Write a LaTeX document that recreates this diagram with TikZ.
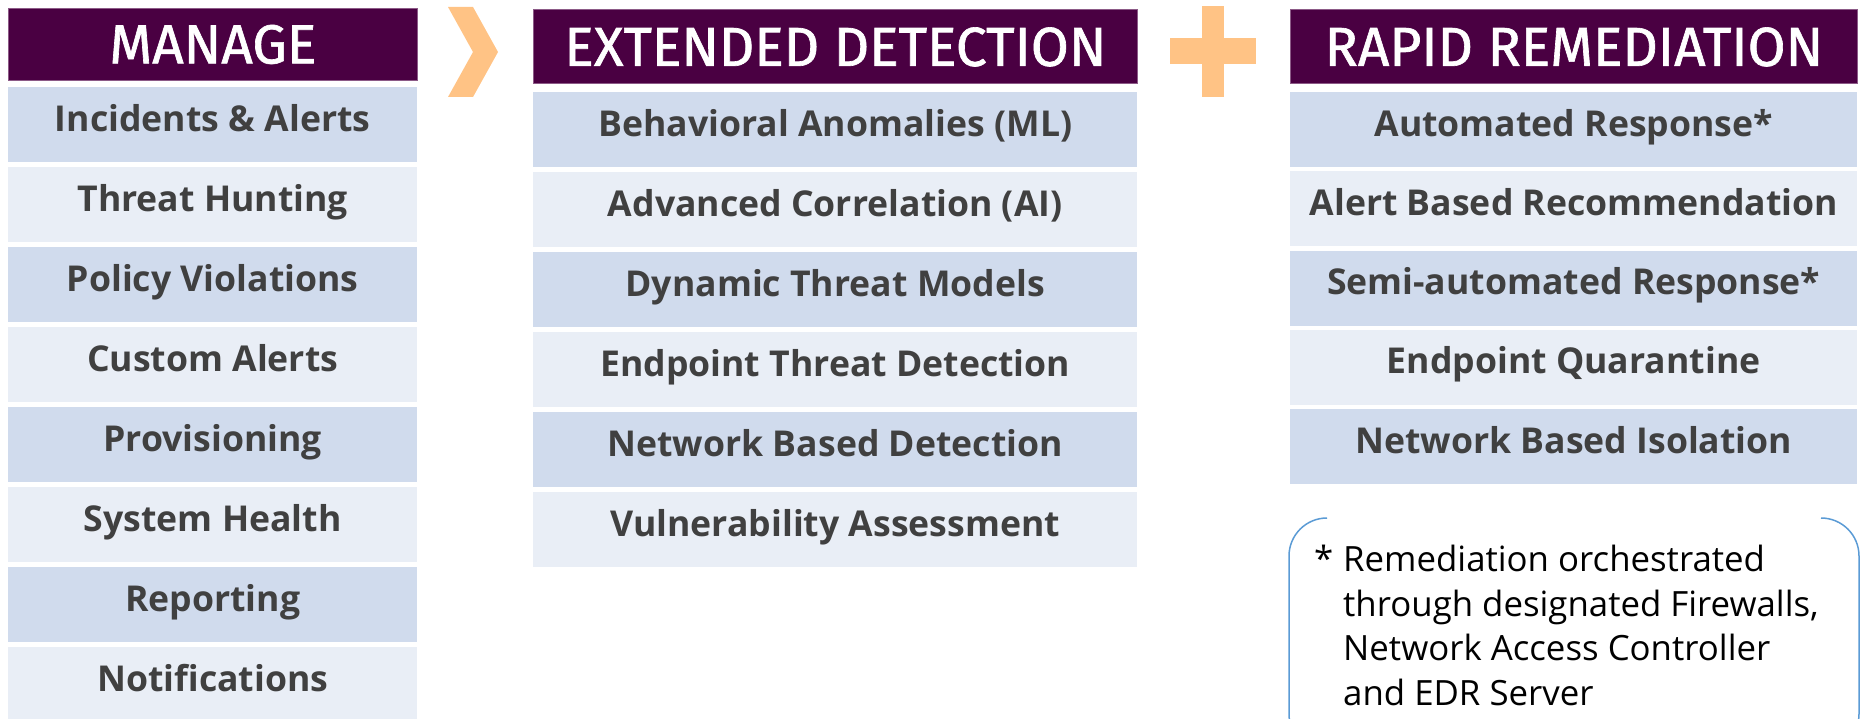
\documentclass[tikz,border=0pt]{standalone}
\usepackage{fontspec}
\setmainfont{Open Sans}
\newfontfamily\hdrfont[FakeBold=1.2]{Fira Sans}
\definecolor{hdrpurple}{HTML}{4A0042}
\definecolor{hdredge}{HTML}{8C5A87}
\definecolor{rowdark}{HTML}{D0DBED}
\definecolor{rowlight}{HTML}{E9EEF6}
\definecolor{txtgray}{HTML}{404040}
\definecolor{orng}{HTML}{FFC385}
\definecolor{notebl}{HTML}{5B9BD5}
\tikzset{
  hdr/.style={fill=hdrpurple, draw=hdredge, line width=0.8pt, text=white,
    font=\hdrfont\fontsize{55}{60}\selectfont, inner sep=0pt, anchor=north west,
    text height=38pt, text depth=0pt},
  cell/.style={inner sep=0pt, anchor=north west, minimum height=75pt,
    text height=44pt, text depth=31pt, text=txtgray,
    font=\bfseries\fontsize{35.6}{43}\selectfont},
  notebr/.style={draw=notebl, line width=1.5pt, rounded corners=38pt},
  notetxt/.style={inner sep=0pt, anchor=north west, align=left,
    font=\fontsize{34.8}{44.5}\selectfont, text=black}
}
\begin{document}
\begin{tikzpicture}[x=1pt,y=-1pt]
\useasboundingbox (0,0) rectangle (1861,719);
\begin{scope}
\clip (0,0) rectangle (1861,719);
% headers
\node[hdr, minimum width=409pt, minimum height=72pt] (hman) at (8,8) {MANAGE};
\node[hdr, minimum width=604pt, minimum height=74pt] (hext) at (533,9.5) {EXTENDED DETECTION};
\node[hdr, minimum width=567pt, minimum height=74pt] (hrap) at (1290,9.5) {RAPID REMEDIATION};
% manage rows
\foreach \t [count=\i from 0, evaluate=\i as \yy using 87+80*\i] in
  {Incidents \& Alerts, Threat Hunting, Policy Violations, Custom Alerts,
   Provisioning, System Health, Reporting, Notifications}{
  \ifodd\i\def\rc{rowlight}\else\def\rc{rowdark}\fi
  \node[cell, fill=\rc, minimum width=409pt] (m\i) at (8,\yy) {\t};
}
% extended rows
\foreach \t [count=\i from 0, evaluate=\i as \yy using 92+80*\i] in
  {Behavioral Anomalies (ML), Advanced Correlation (AI), Dynamic Threat Models,
   Endpoint Threat Detection, Network Based Detection, Vulnerability Assessment}{
  \ifodd\i\def\rc{rowlight}\else\def\rc{rowdark}\fi
  \node[cell, fill=\rc, minimum width=604pt] (e\i) at (533,\yy) {\t};
}
% rapid rows
\foreach \t [count=\i from 0, evaluate=\i as \yy using 92+79.2*\i] in
  {Automated Response*, Alert Based Recommendation, Semi-automated Response*,
   Endpoint Quarantine, Network Based Isolation}{
  \ifodd\i\def\rc{rowlight}\else\def\rc{rowdark}\fi
  \node[cell, fill=\rc, minimum width=567pt] (r\i) at (1290,\yy) {\t};
}
% chevron
\fill[orng] (448,7) -- (473,7) -- (498,52) -- (473,97) -- (448,97) -- (473,52) -- cycle;
% plus
\fill[orng] (1202,6) rectangle (1224,97);
\fill[orng] (1170,38) rectangle (1256,64);
% note brackets
\draw[notebr] (1327,518) -- (1289,518) -- (1289,752) -- (1327,752);
\draw[notebr] (1821,518) -- (1859,518) -- (1859,752) -- (1821,752);
\node[notetxt] (note) at (1343,545) {\llap{*\hspace{10pt}}Remediation orchestrated\\through designated Firewalls,\\Network Access Controller\\and EDR Server};
\end{scope}
\end{tikzpicture}
\end{document}
